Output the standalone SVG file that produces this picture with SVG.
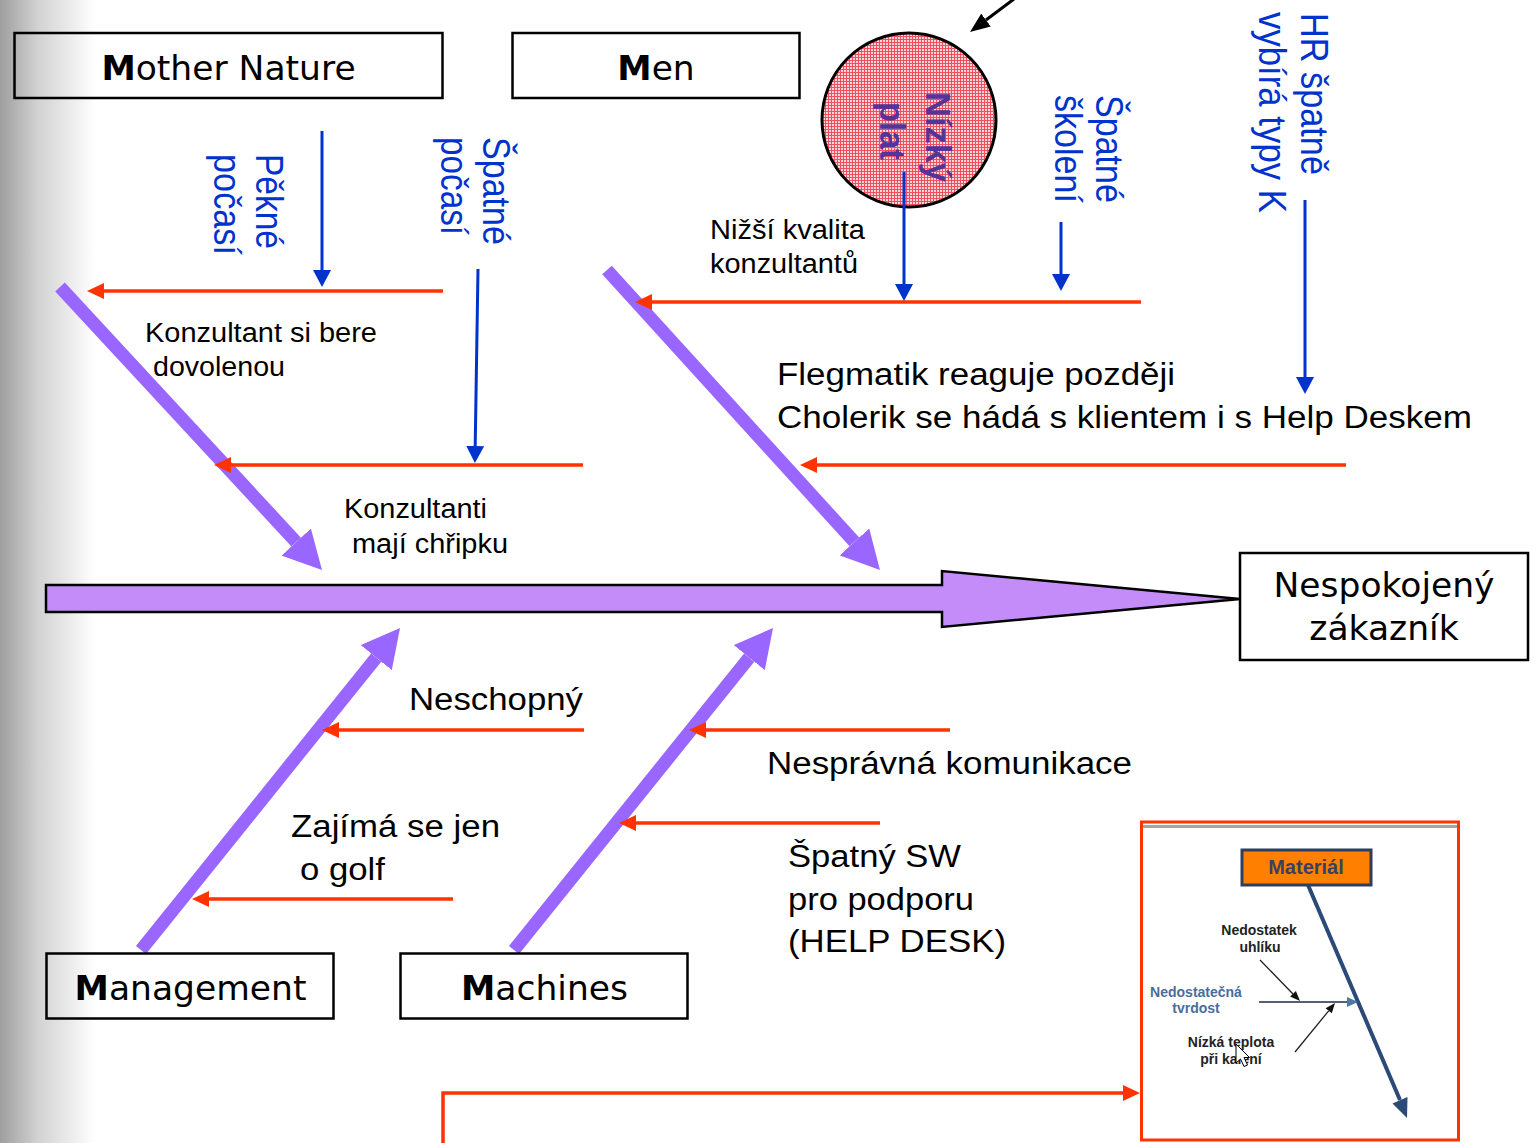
<svg xmlns="http://www.w3.org/2000/svg" width="1535" height="1143" viewBox="0 0 1535 1143">
<defs>
<linearGradient id="edge" x1="0" y1="0" x2="95" y2="0" gradientUnits="userSpaceOnUse">
<stop offset="0" stop-color="#9e9e9e"/>
<stop offset="0.4" stop-color="#d2d2d2"/>
<stop offset="1" stop-color="#ffffff"/>
</linearGradient>
<pattern id="grid" width="3" height="3" patternUnits="userSpaceOnUse">
<rect width="3" height="3" fill="#fcd6d9"/>
<rect width="3" height="1" fill="#f0505e"/>
<rect width="1" height="3" fill="#f0505e"/>
</pattern>
<marker id="redHead" viewBox="0 -8 17 16" refX="0" refY="0" markerWidth="17" markerHeight="16" markerUnits="userSpaceOnUse" orient="auto">
<path d="M0,-8 L17,0 L0,8 z" fill="#ff3300"/>
</marker>
<marker id="blueHead" viewBox="0 -9 17 18" refX="0" refY="0" markerWidth="17" markerHeight="18" markerUnits="userSpaceOnUse" orient="auto">
<path d="M0,-9 L17,0 L0,9 z" fill="#0033cc"/>
</marker>
<marker id="boneHead" viewBox="0 -20 38 40" refX="0" refY="0" markerWidth="38" markerHeight="40" markerUnits="userSpaceOnUse" orient="auto">
<path d="M0,-20 L38,0 L0,20 z" fill="#9966ff"/>
</marker>
<marker id="blackHead" viewBox="0 -8 20 16" refX="0" refY="0" markerWidth="20" markerHeight="16" markerUnits="userSpaceOnUse" orient="auto">
<path d="M0,-8 L20,0 L0,8 z" fill="#000"/>
</marker>
</defs>
<style>
.box{fill:none;stroke:#000;stroke-width:2.5}
.btxt{font-family:"DejaVu Sans",Verdana,sans-serif;font-size:34.5px;fill:#000}
.lbl{font-family:"Liberation Sans",Arial,sans-serif;fill:#000}
.s27{font-size:27px}
.s31{font-size:31px}
.vt{font-family:"Liberation Sans",Arial,sans-serif;font-size:34px;fill:#0033cc}
.red{stroke:#ff3300;stroke-width:3.5;fill:none;marker-end:url(#redHead)}
.blue{stroke:#0033cc;stroke-width:3;fill:none;marker-end:url(#blueHead)}
.bone{stroke:#9966ff;stroke-width:13;fill:none;marker-end:url(#boneHead)}
.ins{font-family:"Liberation Sans",Arial,sans-serif;font-size:14px;font-weight:bold;text-anchor:middle}
</style>
<rect width="1535" height="1143" fill="#ffffff"/>
<rect x="0" y="0" width="100" height="1143" fill="url(#edge)"/>

<g id="connectors">
<polygon id="spine" points="46,585 942,585 942,571 1240,599 942,627 942,612 46,612" fill="#c48cf8" stroke="#000" stroke-width="2.5" stroke-linejoin="miter"/>
<line class="bone" x1="60" y1="287" x2="296.2" y2="542.1"/>
<line class="bone" x1="607" y1="270" x2="854.4" y2="541.9"/>
<line class="bone" x1="141" y1="950" x2="376.2" y2="657.6"/>
<line class="bone" x1="514" y1="950" x2="749.2" y2="657.6"/>
<line class="red" x1="443" y1="291" x2="104" y2="291"/>
<line class="red" x1="583" y1="465" x2="231" y2="465"/>
<line class="red" x1="1141" y1="302" x2="652" y2="302"/>
<line class="red" x1="1346" y1="465" x2="817" y2="465"/>
<line class="red" x1="584" y1="730" x2="339" y2="730"/>
<line class="red" x1="453" y1="899" x2="209" y2="899"/>
<line class="red" x1="950" y1="730" x2="706" y2="730"/>
<line class="red" x1="880" y1="823" x2="636" y2="823"/>
<path class="red" d="M443,1143 V1093 H1123" stroke-width="3"/>
<line class="blue" x1="322" y1="131" x2="322" y2="270"/>
<line class="blue" x1="478" y1="269" x2="475.2" y2="446"/>
<line class="blue" x1="904" y1="172" x2="904" y2="284"/>
<line class="blue" x1="1061" y1="222" x2="1061" y2="274"/>
<line class="blue" x1="1305" y1="200" x2="1305" y2="377"/>
<line x1="1014" y1="-1" x2="986" y2="20" stroke="#000" stroke-width="3" marker-end="url(#blackHead)"/>
</g>

<g id="node-mother-nature">
<rect class="box" x="14.5" y="33" width="428" height="65"/>
<text class="btxt" x="228.5" y="79.5" text-anchor="middle"><tspan font-weight="bold">M</tspan>other Nature</text>
</g>
<g id="node-men">
<rect class="box" x="512.5" y="33" width="287" height="65"/>
<text class="btxt" x="656" y="79.5" text-anchor="middle"><tspan font-weight="bold">M</tspan>en</text>
</g>
<g id="node-management">
<rect class="box" x="46.5" y="953.5" width="287" height="65"/>
<text class="btxt" x="190.5" y="999.5" text-anchor="middle"><tspan font-weight="bold">M</tspan>anagement</text>
</g>
<g id="node-machines">
<rect class="box" x="400.5" y="953.5" width="287" height="65"/>
<text class="btxt" x="544.5" y="999.5" text-anchor="middle"><tspan font-weight="bold">M</tspan>achines</text>
</g>
<g id="node-effect">
<rect class="box" x="1240" y="553" width="288" height="107"/>
<text class="btxt" x="1384" y="597" text-anchor="middle" font-size="34">Nespokojený</text>
<text class="btxt" x="1384" y="640" text-anchor="middle" font-size="34">zákazník</text>
</g>

<g id="node-nizky-plat">
<circle cx="909" cy="120" r="87" fill="url(#grid)" stroke="#000" stroke-width="3"/>
<line x1="904" y1="172" x2="904" y2="208" stroke="#0033cc" stroke-width="3"/>
<text transform="translate(926,92) scale(1.12,1) rotate(90)" font-family="Liberation Sans, Arial, sans-serif" font-weight="bold" font-size="32" fill="#553399" textLength="90" lengthAdjust="spacingAndGlyphs">Nízký</text>
<text transform="translate(880,102) scale(1.12,1) rotate(90)" font-family="Liberation Sans, Arial, sans-serif" font-weight="bold" font-size="32" fill="#553399" textLength="58" lengthAdjust="spacingAndGlyphs">plat</text>
</g>

<g id="causes-vertical">
<text class="vt" transform="translate(256,154) scale(1.12,1) rotate(90)" textLength="95" lengthAdjust="spacingAndGlyphs">Pěkné</text>
<text class="vt" transform="translate(214,154) scale(1.12,1) rotate(90)" textLength="101" lengthAdjust="spacingAndGlyphs">počasí</text>
<text class="vt" transform="translate(483,137) scale(1.12,1) rotate(90)" textLength="108" lengthAdjust="spacingAndGlyphs">Špatné</text>
<text class="vt" transform="translate(441,137) scale(1.12,1) rotate(90)" textLength="98" lengthAdjust="spacingAndGlyphs">počasí</text>
<text class="vt" transform="translate(1096,95) scale(1.12,1) rotate(90)" textLength="108" lengthAdjust="spacingAndGlyphs">Špatné</text>
<text class="vt" transform="translate(1055,95) scale(1.12,1) rotate(90)" textLength="108" lengthAdjust="spacingAndGlyphs">školení</text>
<text class="vt" transform="translate(1301,13) scale(1.12,1) rotate(90)" textLength="162" lengthAdjust="spacingAndGlyphs">HR špatně</text>
<text class="vt" transform="translate(1259,12) scale(1.12,1) rotate(90)" textLength="201" lengthAdjust="spacingAndGlyphs">vybírá typy K</text>
</g>

<g id="causes-horizontal">
<text class="lbl s27" x="145" y="342" textLength="232" lengthAdjust="spacingAndGlyphs">Konzultant si bere</text>
<text class="lbl s27" x="153" y="376" textLength="132" lengthAdjust="spacingAndGlyphs">dovolenou</text>
<text class="lbl s27" x="344" y="518" textLength="143" lengthAdjust="spacingAndGlyphs">Konzultanti</text>
<text class="lbl s27" x="352" y="553" textLength="156" lengthAdjust="spacingAndGlyphs">mají chřipku</text>
<text class="lbl s27" x="710" y="239" textLength="155" lengthAdjust="spacingAndGlyphs">Nižší kvalita</text>
<text class="lbl s27" x="710" y="273" textLength="148" lengthAdjust="spacingAndGlyphs">konzultantů</text>
<text class="lbl s31" x="777" y="385" textLength="398" lengthAdjust="spacingAndGlyphs">Flegmatik reaguje později</text>
<text class="lbl s31" x="777" y="428" textLength="695" lengthAdjust="spacingAndGlyphs">Cholerik se hádá s klientem i s Help Deskem</text>
<text class="lbl s31" x="409" y="710" textLength="174" lengthAdjust="spacingAndGlyphs">Neschopný</text>
<text class="lbl s31" x="291" y="837" textLength="209" lengthAdjust="spacingAndGlyphs">Zajímá se jen</text>
<text class="lbl s31" x="300" y="880" textLength="85" lengthAdjust="spacingAndGlyphs">o golf</text>
<text class="lbl s31" x="767" y="774" textLength="365" lengthAdjust="spacingAndGlyphs">Nesprávná komunikace</text>
<text class="lbl s31" x="788" y="867" textLength="173" lengthAdjust="spacingAndGlyphs">Špatný SW</text>
<text class="lbl s31" x="788" y="910" textLength="186" lengthAdjust="spacingAndGlyphs">pro podporu</text>
<text class="lbl s31" x="788" y="952" textLength="218" lengthAdjust="spacingAndGlyphs">(HELP DESK)</text>
</g>

<g id="inset-material">
<rect x="1141.5" y="822" width="317" height="318" fill="#ffffff" stroke="#ff3300" stroke-width="3"/>
<line x1="1143" y1="826.5" x2="1457" y2="826.5" stroke="#a3a89f" stroke-width="3"/>
<line x1="1308" y1="885" x2="1400" y2="1100" stroke="#2b4a78" stroke-width="4"/>
<polygon points="1407,1118 1407.5,1097 1392.5,1103.5" fill="#2b4a78"/>
<rect x="1242" y="850" width="129" height="35" fill="#ff8000" stroke="#2e3e5c" stroke-width="3"/>
<text x="1306" y="874" font-family="Liberation Sans, Arial, sans-serif" font-weight="bold" font-size="20" fill="#3c4060" text-anchor="middle">Materiál</text>
<line x1="1259" y1="1002" x2="1348" y2="1002" stroke="#1c2c44" stroke-width="1.5"/>
<polygon points="1358,1002 1347,997 1347,1007" fill="#4c7aa0"/>
<line x1="1260" y1="960" x2="1293" y2="994" stroke="#222" stroke-width="1.3"/>
<polygon points="1300,1001 1295.9,991 1290.1,996.6" fill="#111"/>
<line x1="1295" y1="1052" x2="1328.7" y2="1010.8" stroke="#222" stroke-width="1.3"/>
<polygon points="1335,1003 1331.8,1013.3 1325.6,1008.3" fill="#111"/>
<text class="ins" x="1259" y="935" fill="#222">Nedostatek</text>
<text class="ins" x="1260" y="952" fill="#222">uhlíku</text>
<text class="ins" x="1196" y="997" fill="#4a6d9c">Nedostatečná</text>
<text class="ins" x="1196" y="1013" fill="#4a6d9c">tvrdost</text>
<text class="ins" x="1231" y="1047" fill="#222">Nízká teplota</text>
<text class="ins" x="1231" y="1064" fill="#222">při kalení</text>
<polygon points="1236,1044 1236,1063 1240.5,1059 1244,1066.5 1247.5,1065 1244,1057.5 1249.5,1057.5" fill="#ffffff" stroke="#000" stroke-width="1"/>
</g>
</svg>
